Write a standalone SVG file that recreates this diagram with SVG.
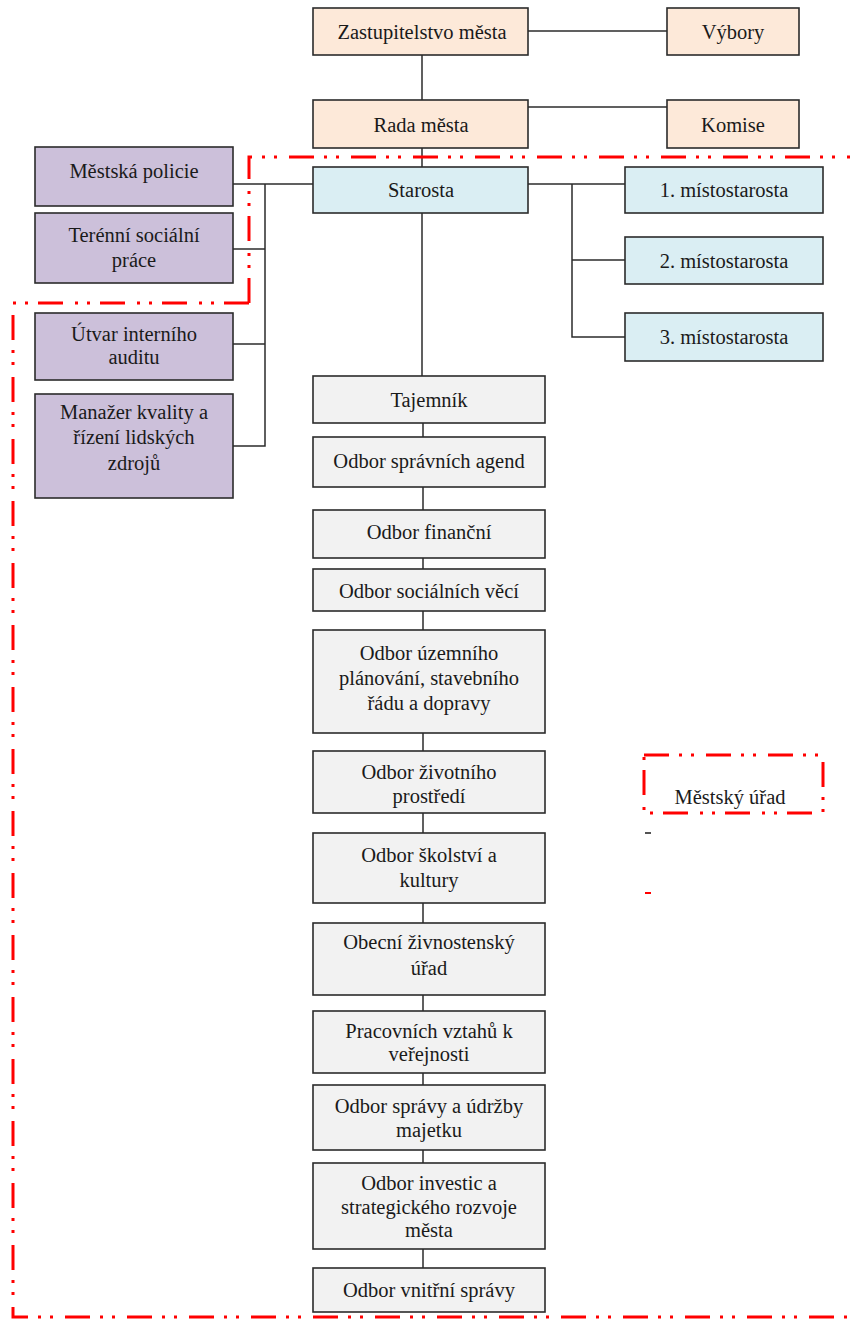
<svg xmlns="http://www.w3.org/2000/svg" width="850" height="1320" viewBox="0 0 850 1320" font-family="Liberation Serif, DejaVu Serif, serif">
<style>
  text { font-size: 20.5px; fill: #1a1a1a; text-anchor: middle; }
  .box { stroke: #2b2b2b; stroke-width: 1.6; }
  .peach { fill: #fde9d9; }
  .blue { fill: #daeef3; }
  .purple { fill: #ccc0da; }
  .grey { fill: #f2f2f2; }
  .conn { stroke: #2b2b2b; stroke-width: 1.5; fill: none; }
  .bound { stroke: #ff0000; stroke-width: 3; fill: none; stroke-dasharray: 25 10 3 9 3 12; }
</style>
<rect width="850" height="1320" fill="#ffffff"/>

<g id="connectors">
  <line class="conn" x1="528" y1="31" x2="667" y2="31"/>
  <line class="conn" x1="422" y1="55" x2="422" y2="100"/>
  <line class="conn" x1="528" y1="107" x2="667" y2="107"/>
  <line class="conn" x1="422" y1="148" x2="422" y2="167"/>
  <line class="conn" x1="528" y1="184" x2="625" y2="184"/>
  <polyline class="conn" points="572,184 572,337 625,337"/>
  <line class="conn" x1="572" y1="260" x2="625" y2="260"/>
  <line class="conn" x1="233" y1="184" x2="313" y2="184"/>
  <polyline class="conn" points="265,184 265,446 233,446"/>
  <line class="conn" x1="233" y1="249" x2="265" y2="249"/>
  <line class="conn" x1="233" y1="344" x2="265" y2="344"/>
  <line class="conn" x1="422" y1="213" x2="422" y2="376"/>
  <line class="conn" x1="423" y1="423" x2="423" y2="1268"/>
</g>

<g id="boundary">
  <path class="bound" d="M249,303 L249,157 L850,157"/>
  <path class="bound" d="M249,303 L13,303 L13,1317 L850,1317"/>
</g>

<g id="zastupitelstvo">
  <rect class="box peach" x="313" y="8" width="215" height="47"/>
  <text x="422" y="39">Zastupitelstvo města</text>
</g>
<g id="vybory">
  <rect class="box peach" x="667" y="8" width="132" height="47"/>
  <text x="733" y="39">Výbory</text>
</g>
<g id="rada">
  <rect class="box peach" x="313" y="100" width="215" height="48"/>
  <text x="421" y="132">Rada města</text>
</g>
<g id="komise">
  <rect class="box peach" x="667" y="100" width="132" height="48"/>
  <text x="733" y="132">Komise</text>
</g>

<g id="starosta">
  <rect class="box blue" x="313" y="167" width="215" height="46"/>
  <text x="421" y="197">Starosta</text>
</g>
<g id="mistostarosta1">
  <rect class="box blue" x="625" y="167" width="198" height="46"/>
  <text x="724" y="197">1. místostarosta</text>
</g>
<g id="mistostarosta2">
  <rect class="box blue" x="625" y="237" width="198" height="47"/>
  <text x="724" y="268">2. místostarosta</text>
</g>
<g id="mistostarosta3">
  <rect class="box blue" x="625" y="313" width="198" height="48"/>
  <text x="724" y="344">3. místostarosta</text>
</g>

<g id="policie">
  <rect class="box purple" x="35" y="147" width="198" height="59"/>
  <text x="134" y="178">Městská policie</text>
</g>
<g id="terenni">
  <rect class="box purple" x="35" y="213" width="198" height="70"/>
  <text x="134" y="242">Terénní sociální</text>
  <text x="134" y="267">práce</text>
</g>
<g id="audit">
  <rect class="box purple" x="35" y="313" width="198" height="67"/>
  <text x="134" y="341">Útvar interního</text>
  <text x="134" y="364">auditu</text>
</g>
<g id="manazer">
  <rect class="box purple" x="35" y="394" width="198" height="104"/>
  <text x="134" y="419">Manažer kvality a</text>
  <text x="134" y="444">řízení lidských</text>
  <text x="134" y="470">zdrojů</text>
</g>

<g id="tajemnik">
  <rect class="box grey" x="313" y="376" width="232" height="47"/>
  <text x="429" y="407">Tajemník</text>
</g>
<g id="spravnich">
  <rect class="box grey" x="313" y="437" width="232" height="50"/>
  <text x="429" y="468">Odbor správních agend</text>
</g>
<g id="financni">
  <rect class="box grey" x="313" y="510" width="232" height="48"/>
  <text x="429" y="539">Odbor finanční</text>
</g>
<g id="socialnich">
  <rect class="box grey" x="313" y="569" width="232" height="42"/>
  <text x="429" y="598">Odbor sociálních věcí</text>
</g>
<g id="uzemniho">
  <rect class="box grey" x="313" y="630" width="232" height="103"/>
  <text x="429" y="660">Odbor územního</text>
  <text x="429" y="685">plánování, stavebního</text>
  <text x="429" y="710">řádu a dopravy</text>
</g>
<g id="zivotniho">
  <rect class="box grey" x="313" y="751" width="232" height="62"/>
  <text x="429" y="779">Odbor životního</text>
  <text x="429" y="803">prostředí</text>
</g>
<g id="skolstvi">
  <rect class="box grey" x="313" y="833" width="232" height="70"/>
  <text x="429" y="862">Odbor školství a</text>
  <text x="429" y="887">kultury</text>
</g>
<g id="zivnostensky">
  <rect class="box grey" x="313" y="923" width="232" height="72"/>
  <text x="429" y="949">Obecní živnostenský</text>
  <text x="429" y="975">úřad</text>
</g>
<g id="pracovnich">
  <rect class="box grey" x="313" y="1011" width="232" height="62"/>
  <text x="429" y="1038">Pracovních vztahů k</text>
  <text x="429" y="1061">veřejnosti</text>
</g>
<g id="majetku">
  <rect class="box grey" x="313" y="1085" width="232" height="65"/>
  <text x="429" y="1113">Odbor správy a údržby</text>
  <text x="429" y="1137">majetku</text>
</g>
<g id="investic">
  <rect class="box grey" x="313" y="1163" width="232" height="86"/>
  <text x="429" y="1190">Odbor investic a</text>
  <text x="429" y="1214">strategického rozvoje</text>
  <text x="429" y="1237">města</text>
</g>
<g id="vnitrni">
  <rect class="box grey" x="313" y="1268" width="232" height="44"/>
  <text x="429" y="1297">Odbor vnitřní správy</text>
</g>

<g id="legend">
  <rect class="bound" x="644" y="755" width="179" height="58"/>
  <text x="730" y="804">Městský úřad</text>
  <line x1="645" y1="833" x2="651" y2="833" stroke="#1a1a1a" stroke-width="1.5"/>
  <line x1="645" y1="893" x2="651" y2="893" stroke="#ff0000" stroke-width="2"/>
</g>
</svg>
